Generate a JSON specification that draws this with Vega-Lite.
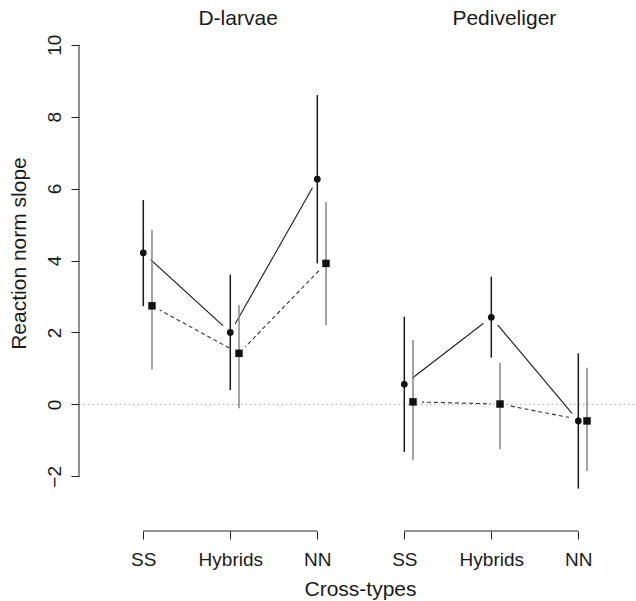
{
  "$schema": "https://vega.github.io/schema/vega-lite/v6.json",
  "width": 557,
  "height": 505,
  "autosize": "none",
  "padding": {"left": 79, "top": 26, "right": 0, "bottom": 70},
  "background": "white",
  "config": {"view": {"stroke": null}, "font": "Liberation Sans"},
  "datasets": {
    "points": [
      {"stage": "D-larvae", "type": "SS", "pos": 1, "series": "A", "mean": 4.21, "lo": 2.73, "hi": 5.68},
      {"stage": "D-larvae", "type": "Hybrids", "pos": 2, "series": "A", "mean": 2.0, "lo": 0.4, "hi": 3.61},
      {"stage": "D-larvae", "type": "NN", "pos": 3, "series": "A", "mean": 6.26, "lo": 3.92, "hi": 8.6},
      {"stage": "Pediveliger", "type": "SS", "pos": 4, "series": "A", "mean": 0.56, "lo": -1.32, "hi": 2.44},
      {"stage": "Pediveliger", "type": "Hybrids", "pos": 5, "series": "A", "mean": 2.42, "lo": 1.3, "hi": 3.55},
      {"stage": "Pediveliger", "type": "NN", "pos": 6, "series": "A", "mean": -0.46, "lo": -2.34, "hi": 1.42},
      {"stage": "D-larvae", "type": "SS", "pos": 1, "series": "B", "mean": 2.74, "lo": 0.97, "hi": 4.85},
      {"stage": "D-larvae", "type": "Hybrids", "pos": 2, "series": "B", "mean": 1.42, "lo": -0.11, "hi": 2.76},
      {"stage": "D-larvae", "type": "NN", "pos": 3, "series": "B", "mean": 3.92, "lo": 2.2, "hi": 5.63},
      {"stage": "Pediveliger", "type": "SS", "pos": 4, "series": "B", "mean": 0.07, "lo": -1.55, "hi": 1.79},
      {"stage": "Pediveliger", "type": "Hybrids", "pos": 5, "series": "B", "mean": 0.01, "lo": -1.24, "hi": 1.16},
      {"stage": "Pediveliger", "type": "NN", "pos": 6, "series": "B", "mean": -0.46, "lo": -1.85, "hi": 1.02}
    ],
    "titles": [
      {"label": "D-larvae", "pos": 2.09, "mean": 10.52},
      {"label": "Pediveliger", "pos": 5.15, "mean": 10.52}
    ],
    "brackets": [
      {"stage": "D-larvae", "pos": 1, "pos2": 3, "mean": -3.52},
      {"stage": "Pediveliger", "pos": 4, "pos2": 6, "mean": -3.52}
    ]
  },
  "data": {"name": "points"},
  "encoding": {
    "x": {
      "field": "pos",
      "type": "quantitative",
      "scale": {"domain": [0.261, 6.663], "nice": false, "zero": false},
      "axis": {
        "values": [1, 2, 3, 4, 5, 6],
        "labelExpr": "['','SS','Hybrids','NN','SS','Hybrids','NN'][datum.value]",
        "domain": false,
        "grid": false,
        "tickSize": 8,
        "tickColor": "#222",
        "tickWidth": 1,
        "labelFontSize": 19,
        "labelColor": "#1a1a1a",
        "labelPadding": 11,
        "labelBaseline": "top",
        "labelAngle": 0,
        "labelFlush": false,
        "labelOverlap": false,
        "title": "Cross-types",
        "titleFontSize": 21,
        "titleFontWeight": "normal",
        "titleColor": "#1a1a1a",
        "titleX": 281,
        "titleY": 64,
        "titleAlign": "center",
        "titleBaseline": "alphabetic"
      }
    },
    "y": {
      "field": "mean",
      "type": "quantitative",
      "scale": {"domain": [-3.52, 10.52], "nice": false, "zero": false},
      "axis": {
        "values": [-2, 0, 2, 4, 6, 8, 10],
        "domain": false,
        "grid": false,
        "tickSize": 8,
        "tickColor": "#222",
        "tickWidth": 1,
        "labelFontSize": 19,
        "labelColor": "#1a1a1a",
        "labelAngle": -90,
        "labelAlign": "center",
        "labelBaseline": "alphabetic",
        "labelPadding": 11,
        "labelOverlap": false,
        "labelFlush": false,
        "title": "Reaction norm slope",
        "titleFontSize": 21,
        "titleFontWeight": "normal",
        "titleColor": "#1a1a1a",
        "titleAngle": -90,
        "titleX": -54,
        "titleY": 227,
        "titleAlign": "center",
        "titleBaseline": "alphabetic"
      }
    }
  },
  "layer": [
    {
      "transform": [{"filter": "datum.series == 'A'"}],
      "mark": {"type": "line", "color": "#1a1a1a", "strokeWidth": 1.1},
      "encoding": {"detail": {"field": "stage"}}
    },
    {
      "transform": [{"filter": "datum.series == 'B'"}],
      "mark": {"type": "line", "color": "#333", "strokeWidth": 1.1, "strokeDash": [4, 3], "xOffset": 8.7},
      "encoding": {"detail": {"field": "stage"}}
    },
    {
      "transform": [{"filter": "datum.series == 'A'"}],
      "mark": {"type": "point", "shape": "circle", "filled": true, "color": "white", "opacity": 1, "size": 400, "strokeWidth": 0}
    },
    {
      "transform": [{"filter": "datum.series == 'B'"}],
      "mark": {"type": "point", "shape": "circle", "filled": true, "color": "white", "opacity": 1, "size": 330, "strokeWidth": 0, "xOffset": 8.7}
    },
    {
      "transform": [{"filter": "datum.pos == 1 && datum.series == 'A'"}],
      "mark": {"type": "rule", "color": "#aaaaaa", "strokeWidth": 1, "strokeDash": [1.5, 3]},
      "encoding": {
        "x": {"datum": 0.261},
        "x2": {"datum": 6.663},
        "y": {"datum": 0}
      }
    },
    {
      "transform": [{"filter": "datum.series == 'A'"}],
      "mark": {"type": "rule", "color": "#1a1a1a", "strokeWidth": 1.5},
      "encoding": {
        "y": {"field": "lo", "type": "quantitative"},
        "y2": {"field": "hi"}
      }
    },
    {
      "transform": [{"filter": "datum.series == 'B'"}],
      "mark": {"type": "rule", "color": "#858585", "strokeWidth": 1.5, "xOffset": 8.7},
      "encoding": {
        "y": {"field": "lo", "type": "quantitative"},
        "y2": {"field": "hi"}
      }
    },
    {
      "transform": [{"filter": "datum.series == 'A'"}],
      "mark": {"type": "point", "shape": "circle", "filled": true, "color": "#111", "opacity": 1, "size": 45}
    },
    {
      "transform": [{"filter": "datum.series == 'B'"}],
      "mark": {"type": "point", "shape": "square", "filled": true, "color": "#111", "opacity": 1, "size": 56, "xOffset": 8.7}
    },
    {
      "transform": [{"filter": "datum.pos == 1 && datum.series == 'A'"}],
      "mark": {"type": "rule", "color": "#222", "strokeWidth": 1},
      "encoding": {
        "x": {"datum": 0.261},
        "y": {"datum": -2},
        "y2": {"datum": 10}
      }
    },
    {
      "data": {"name": "brackets"},
      "mark": {"type": "rule", "color": "#222", "strokeWidth": 1},
      "encoding": {
        "x2": {"field": "pos2"}
      }
    },
    {
      "data": {"name": "titles"},
      "mark": {"type": "text", "fontSize": 21, "color": "#1a1a1a", "align": "center", "baseline": "alphabetic", "dy": -1},
      "encoding": {
        "text": {"field": "label"}
      }
    }
  ]
}
